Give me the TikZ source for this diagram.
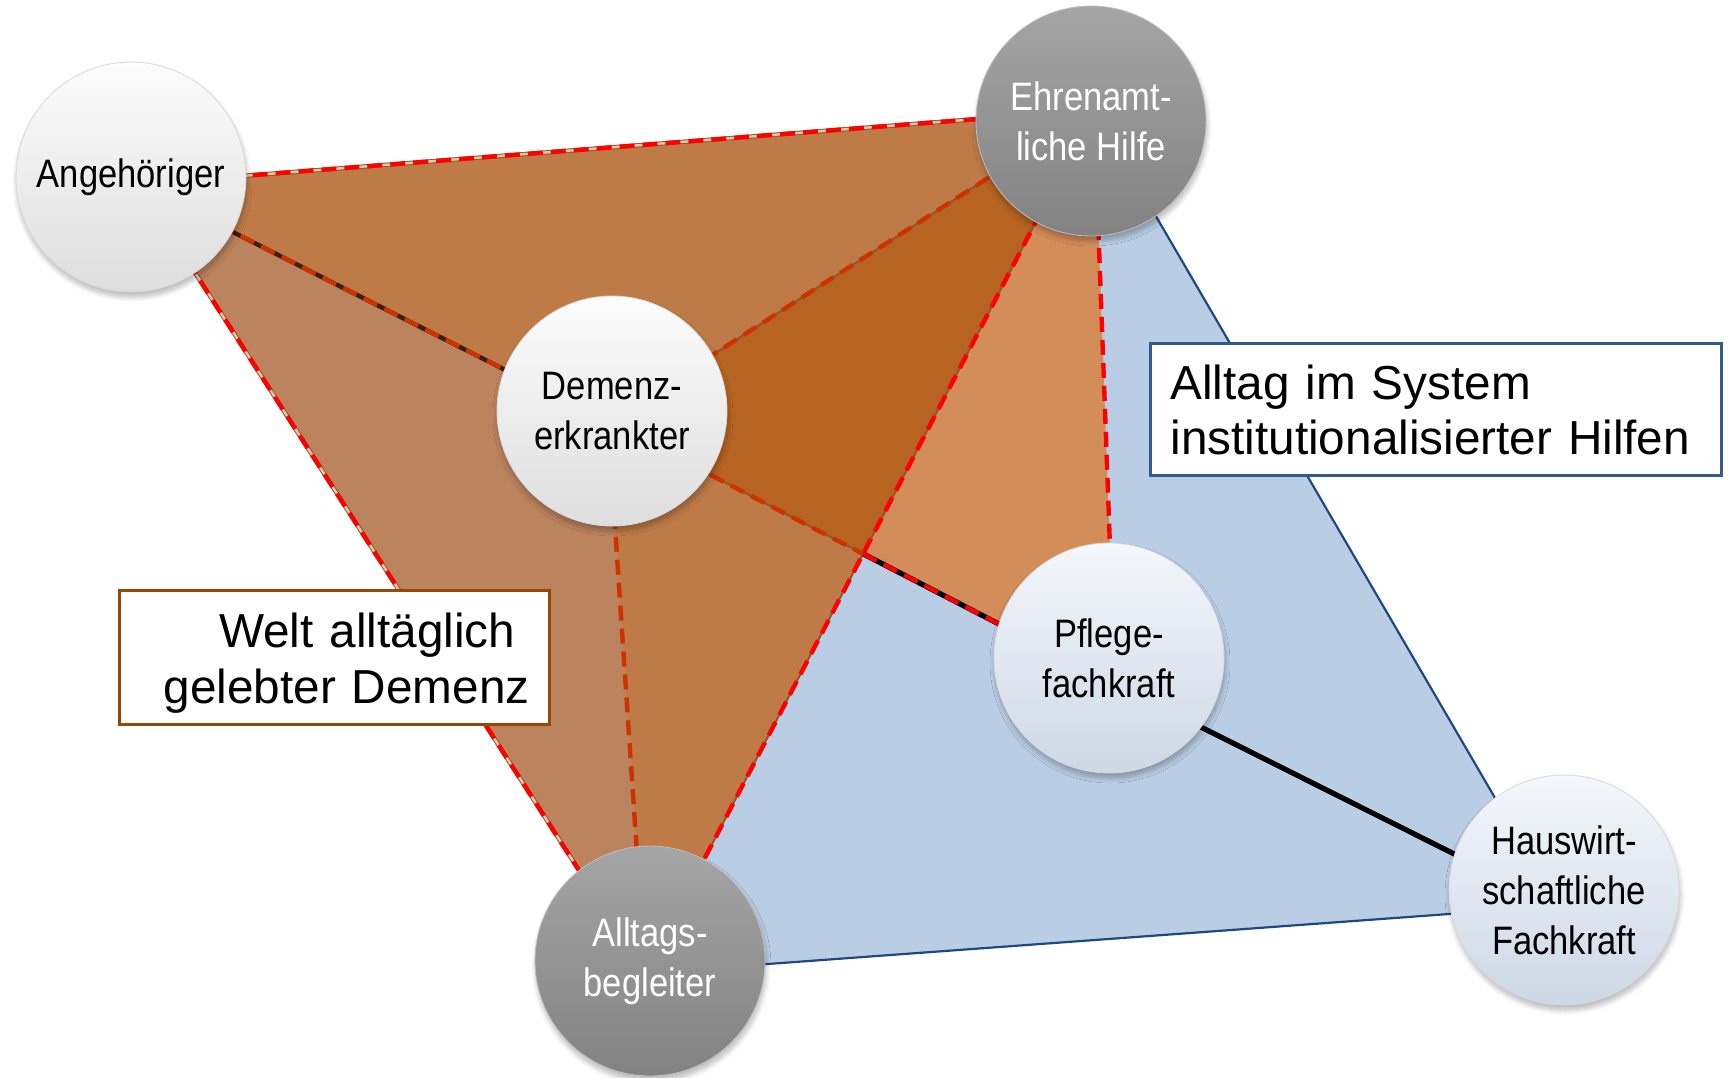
\documentclass[tikz,border=0pt]{standalone}
\usepackage{fontspec}
\setmainfont{Liberation Sans}
\newfontfamily\narrowfont[FakeStretch=0.87]{Liberation Sans}
\usetikzlibrary{shadows.blur,calc}

\definecolor{orTop}{RGB}{190,123,72}
\definecolor{orLeft}{RGB}{187,131,94}
\definecolor{orDark}{RGB}{183,99,34}
\definecolor{orLight}{RGB}{211,141,89}
\definecolor{blueFill}{RGB}{185,205,229}
\definecolor{blueLine}{RGB}{31,73,125}
\definecolor{boxBlue}{RGB}{50,90,140}
\definecolor{boxBrown}{RGB}{152,72,6}
\definecolor{redA}{RGB}{255,0,0}
\definecolor{redB}{RGB}{204,51,0}
\definecolor{edgeBrown}{RGB}{150,85,40}
\definecolor{paleEdge}{RGB}{236,196,172}
\definecolor{darkEdge}{RGB}{60,30,10}
\definecolor{lbTop}{RGB}{252,252,252}
\definecolor{lbMid}{RGB}{236,236,236}
\definecolor{lbBot}{RGB}{222,222,222}
\definecolor{bbTop}{RGB}{244,247,251}
\definecolor{bbMid}{RGB}{222,230,240}
\definecolor{bbBot}{RGB}{205,216,230}
\definecolor{gbTop}{RGB}{165,165,165}
\definecolor{gbMid}{RGB}{150,150,150}
\definecolor{gbBot}{RGB}{130,130,130}

\begin{document}
\begin{tikzpicture}[x=0.5pt,y=-0.5pt,
  ball/.style={circle, inner sep=0pt, minimum size=115pt, align=center,
    font=\narrowfont\fontsize{19.85}{25}\selectfont,
    blur shadow={shadow xshift=0.5pt, shadow yshift=-2.5pt, shadow blur radius=2.5pt, shadow blur steps=10, shadow opacity=28}},
  lightball/.style={ball, top color=lbTop, middle color=lbMid, bottom color=lbBot, draw=black!15, line width=0.4pt, text=black},
  blueball/.style={ball, top color=bbTop, middle color=bbMid, bottom color=bbBot, draw=black!15, line width=0.4pt, text=black},
  grayball/.style={ball, top color=gbTop, middle color=gbMid, bottom color=gbBot, draw=black!25, line width=0.4pt, text=white},
  rimline/.style={draw=edgeBrown, line width=2.2pt},
  paleline/.style={draw=paleEdge, line width=1.2pt},
  reddash/.style={draw=redA, line width=2.2pt, dash pattern=on 7.5pt off 4pt},
  darkdash/.style={draw=redB, line width=2.2pt, dash pattern=on 7.5pt off 4pt},
  thinbrown/.style={draw=edgeBrown, line width=1pt},
  blackline/.style={draw=black, line width=2.6pt},
  bluerim/.style={draw=blueLine, line width=1.1pt},
  weltbox/.style={draw=boxBrown, line width=1.6pt, fill=white, minimum width=215pt, minimum height=67pt,
    text width=195pt, inner xsep=10pt, inner ysep=0pt, align=right, font=\fontsize{23.85}{28}\selectfont},
  alltagbox/.style={draw=boxBlue, line width=1.6pt, fill=white, minimum width=285.5pt, minimum height=66pt,
    text width=265.5pt, inner xsep=10pt, inner ysep=0pt, align=left, font=\fontsize{23.85}{27.5}\selectfont}
]
\useasboundingbox (0,0) rectangle (1729,1077);

% polygon vertices (hidden under the circles)
\coordinate (vA) at (138,184);
\coordinate (vE) at (1094,110);
\coordinate (vD) at (608,422);
\coordinate (vP) at (1115,684);
\coordinate (vB) at (645,973);
\coordinate (vH) at (1558,906);
\coordinate (X) at (intersection of vE--vB and vD--vP);

% blue system triangle
\fill[blueFill] (vE) -- (vH) -- (vB) -- cycle;
\draw[bluerim] (vE) -- (vH) -- (vB);

% orange world triangle and sub-regions
\fill[orTop] (vA) -- (vE) -- (vB) -- cycle;
\fill[orLeft] (vA) -- (vD) -- (vB) -- cycle;
\fill[orDark] (vD) -- (vE) -- (X) -- cycle;
\fill[orLight] (vE) -- (X) -- (vP) -- cycle;

% outer edges of the orange triangle
\draw[rimline] (vA) -- (vE);
\draw[paleline] (vA) -- (vE);
\draw[reddash] (vA) -- (vE);
\draw[rimline] (vA) -- (vB);
\draw[paleline] (vA) -- (vB);
\draw[reddash] (vA) -- (vB);
\draw[thinbrown] (vE) -- (vB);
\draw[reddash] (vE) -- (vB);

% inner connectors
\draw[darkEdge, line width=2.2pt] (vA) -- (vD);
\draw[darkdash] (vA) -- (vD);
\draw[thinbrown] (vD) -- (vE);
\draw[darkdash] (vD) -- (vE);
\draw[darkdash] (vD) -- (vB);
\draw[thinbrown] (vD) -- (X);
\draw[darkdash] (vD) -- (X);
\draw[blackline] (X) -- (vP);
\draw[reddash] (X) -- (vP);
\draw[reddash] (vE) -- (vP);
\draw[blackline] (vP) -- (vH);

% actors
\node[lightball] (ang) at (131,177) {Angehöriger};
\node[grayball]  (ehr) at (1091,121) {Ehrenamt-\\liche Hilfe};
\node[lightball] (dem) at (612,411) {Demenz-\\erkrankter};
\node[blueball]  (pfl) at (1109,658) {Pflege-\\fachkraft};
\node[grayball]  (all) at (650,961) {Alltags-\\begleiter};
\node[blueball]  (hau) at (1564,890) {Hauswirt-\\schaftliche\\Fachkraft};

% labels
\node[weltbox] (welt) at (334.5,657.5) {\rule{0pt}{23pt}Welt alltäglich\kern0.3em\\gelebter Demenz};
\node[alltagbox] (alltag) at (1436,409.5) {Alltag im System\\institutionalisierter Hilfen};
\end{tikzpicture}
\end{document}
